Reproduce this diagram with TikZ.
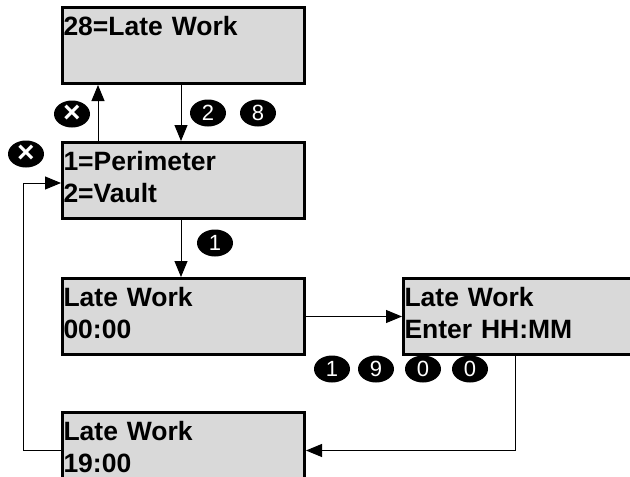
\documentclass[tikz,border=0pt]{standalone}
\usepackage{fontspec}
\setmainfont{Liberation Sans}
\usetikzlibrary{positioning, calc, shapes.geometric, arrows.meta}
\tikzstyle{Screen} = [
draw=black, line width=3pt, fill=black!15,
minimum width=242pt, minimum height=76pt,
text width=240pt, align=left, inner xsep=0.5pt, inner ysep=0pt,
font=\fontsize{26.5}{32}\selectfont\bfseries]
\tikzstyle{Key} = [
ellipse, fill=black, text=white, inner sep=0pt,
minimum width=36pt, minimum height=27pt,
font=\fontsize{22}{22}\selectfont]
\tikzstyle{Arrow} = [
line width=1pt, -{Triangle[length=16pt, width=13pt]}]

\begin{document}
\begin{tikzpicture}[x=1pt, y=-1pt]
    \useasboundingbox (0,0) rectangle (630,477);

    \node [Screen, anchor=north west] (menu) at (61,6) {\strut 28=Late Work\\\strut};
    \node [Screen, below =56pt of menu] (area) {\strut 1=Perimeter\\\strut 2=Vault};
    \node [Screen, below =57pt of area] (now) {\strut Late Work\\\strut 00:00};
    \node [Screen, right =96pt of now] (enter) {\strut Late Work\\\strut Enter HH:MM};
    \node [Screen, below =55pt of now] (set) {\strut Late Work\\\strut 19:00};

    \node [Key] (esc1) at (72,114) {\fontsize{30}{30}\selectfont\bfseries ×};
    \node [Key] (k2) at (208,113) {2};
    \node [Key] (k8) at (258,113) {8};
    \node [Key] (esc2) at (26,154) {\fontsize{30}{30}\selectfont\bfseries ×};
    \node [Key] (k1) at (215,243) {1};
    \node [Key] (n1) at (332,369) {1};
    \node [Key] (n9) at (376,369) {9};
    \node [Key] (n0) at (423,369) {0};
    \node [Key] (n00) at (470,369) {0};

    \draw[Arrow] ([xshift=37pt]area.north west) to ([xshift=37pt]menu.south west);
    \draw[Arrow] ([xshift=120pt]menu.south west) to ([xshift=120pt]area.north west);
    \draw[Arrow] ([xshift=120pt]area.south west) to ([xshift=120pt]now.north west);
    \draw[Arrow] (now) to (enter);
    \draw[Arrow] ([xshift=113pt]enter.south west) |- (set.east);
    \draw[Arrow] (set.west) -- ++(-38,0) |- ([yshift=-2.5pt]area.west);
\end{tikzpicture}
\end{document}
